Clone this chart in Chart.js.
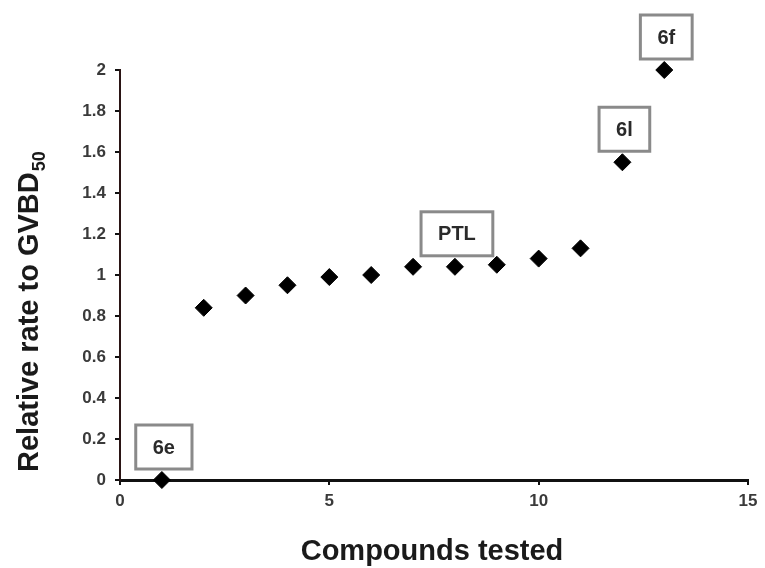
<!DOCTYPE html>
<html>
<head>
<meta charset="utf-8">
<script src="https://cdn.jsdelivr.net/npm/chart.js@4"></script>
<style>
  body { margin: 0; background: #fff; }
  #wrap { width: 765px; height: 568px; }
</style>
</head>
<body>
<div id="wrap"><canvas id="chart" width="765" height="568"></canvas></div>
<script>
// values
const compounds = [1, 2, 3, 4, 5, 6, 7, 8, 9, 10, 11, 12, 13];
const rates = [0, 0.84, 0.90, 0.95, 0.99, 1.0, 1.04, 1.04, 1.05, 1.08, 1.13, 1.55, 2.0];
const callouts = ['6e', '', '', '', '', '', '', 'PTL', '', '', '', '6l', '6f'];
const xTicks = [0, 5, 10, 15];
const yTicks = [0, 0.2, 0.4, 0.6, 0.8, 1, 1.2, 1.4, 1.6, 1.8, 2];

const FONT = "'Liberation Sans', Arial, Helvetica, sans-serif";

// boxed labels above selected points
const calloutPlugin = {
  id: 'callouts',
  afterDatasetsDraw(chart) {
    const ctx = chart.ctx;
    const pts = chart.getDatasetMeta(0).data;
    ctx.save();
    ctx.font = 'bold 20px ' + FONT;
    ctx.textAlign = 'center';
    ctx.textBaseline = 'middle';
    callouts.forEach((txt, i) => {
      if (!txt) return;
      const p = pts[i];
      const w = ctx.measureText(txt).width + 34;
      const h = 44;
      const bx = p.x - w / 2 + 2;
      const by = p.y - 11 - h;
      ctx.fillStyle = '#fff';
      ctx.fillRect(bx, by, w, h);
      ctx.strokeStyle = '#8a8a8a';
      ctx.lineWidth = 3;
      ctx.strokeRect(bx, by, w, h);
      ctx.fillStyle = '#2a2a2a';
      ctx.fillText(txt, bx + w / 2, by + h / 2 + 1);
    });
    ctx.restore();
  }
};

// axis titles (y title carries a subscript)
const titlePlugin = {
  id: 'axisTitles',
  afterDraw(chart) {
    const ctx = chart.ctx;
    const area = chart.chartArea;
    ctx.save();
    ctx.fillStyle = '#1a1a1a';
    ctx.font = 'bold 29px ' + FONT;
    ctx.textAlign = 'center';
    ctx.textBaseline = 'alphabetic';
    ctx.fillText('Compounds tested', (area.left + area.right) / 2 - 2, 560);

    ctx.translate(38, 472);
    ctx.rotate(-Math.PI / 2);
    ctx.textAlign = 'left';
    const main = 'Relative rate to GVBD';
    ctx.fillText(main, 0, 0);
    const mw = ctx.measureText(main).width;
    ctx.font = 'bold 18px ' + FONT;
    ctx.fillText('50', mw + 1, 7);
    ctx.restore();
  }
};

new Chart(document.getElementById('chart'), {
  type: 'scatter',
  data: {
    datasets: [{
      data: compounds.map((c, i) => ({ x: c, y: rates[i] })),
      pointStyle: 'rectRot',
      pointRadius: 8.5,
      pointHoverRadius: 8.5,
      backgroundColor: '#000',
      borderColor: '#000',
      borderWidth: 1,
      clip: false
    }]
  },
  options: {
    responsive: false,
    animation: false,
    layout: { padding: { left: 0, right: 17, top: 70, bottom: 0 } },
    plugins: {
      legend: { display: false },
      tooltip: { enabled: false }
    },
    scales: {
      x: {
        type: 'linear',
        min: 0,
        max: 15,
        afterFit: s => { s.height = 88; },
        afterBuildTicks: s => { s.ticks = xTicks.map(v => ({ value: v })); },
        border: { display: true, color: '#111', width: 3 },
        grid: { drawOnChartArea: false, drawTicks: true, tickLength: 5, color: '#111', lineWidth: 2 },
        ticks: {
          padding: 6,
          color: '#3a3a3a',
          font: { family: FONT, size: 17, weight: 'bold' }
        }
      },
      y: {
        min: 0,
        max: 2,
        afterFit: s => { s.width = 120; },
        afterBuildTicks: s => { s.ticks = yTicks.map(v => ({ value: v })); },
        border: { display: true, color: '#2a1414', width: 2 },
        grid: { drawOnChartArea: false, drawTicks: true, tickLength: 5, color: '#111', lineWidth: 2 },
        ticks: {
          padding: 9,
          color: '#3a3a3a',
          font: { family: FONT, size: 17, weight: 'bold' },
          callback: v => String(Number(v.toFixed(1)))
        }
      }
    }
  },
  plugins: [calloutPlugin, titlePlugin]
});
</script>
</body>
</html>
